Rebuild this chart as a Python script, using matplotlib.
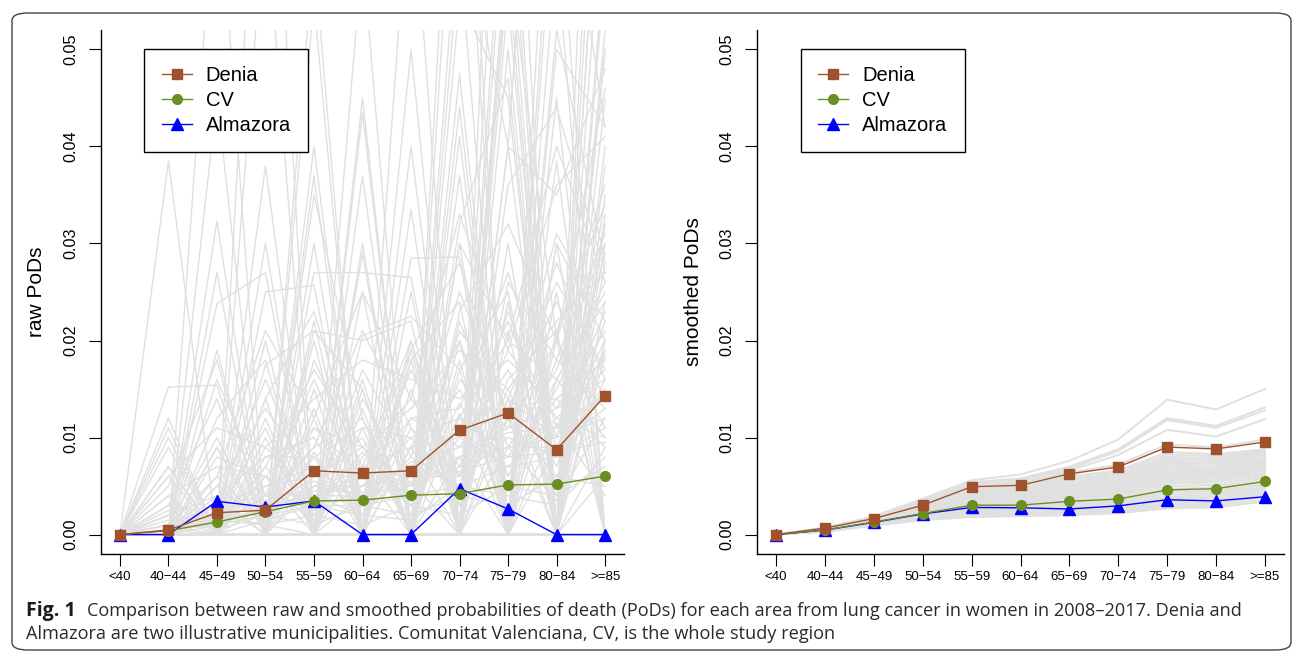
import matplotlib
matplotlib.use("Agg")
import matplotlib.pyplot as plt
from matplotlib.patches import FancyBboxPatch

plt.rcParams["font.family"] = ["Liberation Sans", "DejaVu Sans"]

# age groups
ages = ["<40", "40\u221244", "45\u221249", "50\u221254", "55\u221259", "60\u221264",
        "65\u221269", "70\u221274", "75\u221279", "80\u221284", ">=85"]

# raw PoDs
denia_raw = [0.0, 0.00047, 0.00225, 0.00252, 0.00658, 0.00634, 0.00658, 0.01076, 0.01253, 0.00875, 0.0143]
cv_raw = [0.0, 0.0004, 0.0013, 0.00236, 0.00347, 0.00355, 0.00406, 0.00422, 0.00512, 0.0052, 0.00603]
almazora_raw = [0.0, 0.0, 0.00343, 0.00284, 0.00347, 0.0, 0.0, 0.00473, 0.00264, 0.0, 0.0]

# smoothed PoDs
denia_smooth = [0.0, 0.00067, 0.00165, 0.00303, 0.00493, 0.00508, 0.00626, 0.00697, 0.00902, 0.00883, 0.00954]
cv_smooth = [0.0, 0.00047, 0.0013, 0.00217, 0.00303, 0.00303, 0.00343, 0.00366, 0.00461, 0.00473, 0.00548]
almazora_smooth = [0.0, 0.00047, 0.00126, 0.00213, 0.0028, 0.00276, 0.00264, 0.00296, 0.00359, 0.00347, 0.0039]

# other municipalities (background)
raw_areas = [
    [0, 0.0385, 0, 0, 0, 0, 0, 0, 0, 0, 0],
    [0, 0.0152, 0.0154, 0, 0, 0, 0, 0, 0.012, 0, 0.02],
    [0, 0, 0.0323, 0, 0, 0, 0, 0, 0, 0, 0.045],
    [0, 0, 0.027, 0, 0, 0, 0, 0.03, 0, 0, 0],
    [0, 0, 0.0238, 0.027, 0, 0, 0, 0, 0, 0.03, 0],
    [0, 0, 0, 0.038, 0, 0, 0, 0, 0, 0, 0.05],
    [0, 0, 0, 0.025, 0.0257, 0, 0, 0, 0.04, 0, 0],
    [0, 0, 0, 0, 0.037, 0, 0, 0, 0, 0, 0.03],
    [0, 0, 0, 0, 0.027, 0.027, 0.0265, 0, 0, 0.0385, 0],
    [0, 0, 0, 0, 0, 0.0435, 0, 0, 0, 0, 0.06],
    [0, 0, 0, 0, 0, 0.037, 0, 0.0475, 0, 0, 0],
    [0, 0, 0, 0, 0, 0, 0.0335, 0, 0, 0, 0.1],
    [0, 0, 0, 0, 0, 0, 0.0285, 0.0286, 0, 0, 0],
    [0, 0, 0, 0, 0, 0, 0, 0.037, 0, 0, 0.08],
    [0, 0, 0, 0, 0, 0, 0, 0, 0.05, 0, 0],
    [0, 0, 0, 0, 0, 0, 0, 0, 0.07, 0, 0.035],
    [0, 0, 0.07, 0, 0, 0, 0, 0, 0, 0.045, 0],
    [0, 0, 0, 0.09, 0, 0, 0, 0, 0, 0, 0],
    [0, 0, 0, 0, 0.06, 0, 0, 0.08, 0, 0, 0],
    [0, 0, 0, 0, 0, 0, 0.05, 0, 0, 0.06, 0],
    [0, 0.01, 0, 0, 0, 0, 0, 0, 0.09, 0, 0.07],
    [0, 0, 0.019, 0, 0.02, 0, 0, 0.02, 0, 0.02, 0],
    [0, 0.007, 0, 0.014, 0, 0.015, 0, 0.018, 0, 0.016, 0.025],
    [0, 0.005, 0.018, 0, 0.021, 0.02, 0.022, 0, 0.03, 0, 0.04],
    [0, 0, 0.012, 0.018, 0, 0.0205, 0.0225, 0.017, 0.025, 0, 0.032],
    [0, 0, 0, 0, 0, 0, 0, 0, 0, 0, 0.0185],
    [0, 0, 0, 0, 0, 0, 0, 0.065, 0.04, 0.11, 0.055],
    [0, 0, 0, 0, 0, 0.06, 0, 0, 0.055, 0, 0.09],
    [0, 0, 0, 0, 0.04, 0, 0, 0, 0, 0.075, 0.042],
    [0, 0, 0, 0.03, 0, 0, 0.04, 0, 0.06, 0.02, 0.046],
    [0, 0, 0, 0, 0.035, 0.012, 0, 0.032, 0.047, 0, 0.038],
    [0, 0, 0, 0, 0, 0, 0, 0.044, 0, 0.052, 0.028],
    [0, 0.0005, 0.001, 0.003, 0.004, 0.006, 0.005, 0.008, 0.009, 0.01, 0.012],
    [0, 0.001, 0.002, 0.002, 0.005, 0.004, 0.006, 0.006, 0.01, 0.008, 0.015],
    [0, 0, 0.003, 0.004, 0.003, 0.007, 0.004, 0.01, 0.007, 0.012, 0.01],
    [0, 0.002, 0, 0.005, 0.007, 0.003, 0.008, 0.005, 0.012, 0.006, 0.016],
    [0, 0, 0.004, 0, 0.006, 0.009, 0.003, 0.012, 0.008, 0.014, 0.009],
    [0, 0.003, 0.001, 0.007, 0.002, 0.005, 0.01, 0.004, 0.014, 0.01, 0.02],
    [0, 0, 0, 0.009, 0.004, 0.002, 0.007, 0.015, 0.005, 0.018, 0.013],
    [0, 0.001, 0.006, 0.001, 0.011, 0.006, 0.012, 0.009, 0.017, 0.007, 0.022],
    [0, 0.004, 0, 0.003, 0.009, 0.012, 0.002, 0.016, 0.011, 0.02, 0.011],
    [0, 0, 0.002, 0.011, 0, 0.008, 0.014, 0.007, 0.019, 0.012, 0.017],
    [0, 0.007, 0, 0, 0.013, 0, 0.009, 0.02, 0.006, 0.015, 0.026],
    [0, 0, 0.008, 0.006, 0.001, 0.014, 0.005, 0.011, 0.022, 0.009, 0.019],
    [0, 0.002, 0.001, 0.004, 0.016, 0.004, 0.017, 0.006, 0.013, 0.024, 0.014],
    [0, 0, 0.005, 0.013, 0.006, 0.01, 0, 0.022, 0.009, 0.017, 0.03],
    [0, 0.012, 0, 0.008, 0.01, 0.002, 0.012, 0.013, 0.027, 0.011, 0.023],
    [0, 0.001, 0.01, 0, 0.018, 0.007, 0.02, 0.003, 0.016, 0.021, 0.034],
    [0, 0, 0.003, 0.016, 0.003, 0.017, 0.008, 0.025, 0.012, 0.028, 0.016],
    [0, 0.0015, 0.0005, 0.002, 0.001, 0.003, 0.002, 0.004, 0.003, 0.006, 0.005],
    [0, 0, 0.0015, 0.001, 0.002, 0.001, 0.003, 0.002, 0.005, 0.004, 0.007],
    [0, 0.0005, 0, 0.0015, 0.003, 0.002, 0.0015, 0.005, 0.004, 0.003, 0.008],
    [0, 0.009, 0, 0, 0, 0.011, 0, 0, 0.021, 0, 0.024],
    [0, 0, 0, 0.02, 0, 0, 0.019, 0, 0, 0.025, 0],
    [0, 0.003, 0.014, 0, 0, 0.029, 0, 0.041, 0, 0, 0.05],
    [0, 0, 0, 0, 0.03, 0, 0.015, 0, 0.036, 0.044, 0.027],
    [0, 0, 0, 0.0175, 0.021, 0.015, 0, 0.023, 0.032, 0.02, 0.036],
    [0, 0.006, 0.011, 0.009, 0.014, 0.018, 0.016, 0.014, 0.018, 0.013, 0.021],
    [0, 0, 0, 0, 0, 0, 0, 0, 0.062, 0, 0.12],
    [0, 0, 0, 0, 0, 0, 0, 0.09, 0, 0.07, 0],
    [0, 0, 0, 0, 0, 0, 0, 0, 0, 0.085, 0.065],
    [0, 0, 0, 0, 0, 0.045, 0, 0, 0.075, 0, 0.08],
    [0, 0, 0, 0, 0, 0, 0.07, 0, 0.058, 0, 0.058],
    [0, 0, 0.045, 0, 0.055, 0, 0, 0, 0, 0.05, 0.042],
    [0, 0, 0, 0.065, 0, 0.03, 0, 0.06, 0, 0, 0.052],
    [0, 0, 0, 0, 0, 0, 0, 0.055, 0.045, 0, 0.033],
    [0, 0, 0, 0, 0.022, 0, 0.025, 0, 0.04, 0.035, 0.048],
    [0, 0, 0, 0, 0, 0.025, 0, 0.03, 0.02, 0.04, 0.026],
    [0, 0, 0.009, 0, 0.012, 0, 0.018, 0.024, 0, 0.03, 0.02],
    [0, 0, 0, 0.012, 0, 0.016, 0, 0, 0.026, 0.018, 0.031],
    [0, 0.004, 0.007, 0.006, 0.011, 0.009, 0.013, 0.019, 0.015, 0.022, 0.027],
    [0, 0.002, 0.004, 0.008, 0.008, 0.011, 0.01, 0.012, 0.02, 0.016, 0.024],
    [0, 0.001, 0.003, 0.005, 0.006, 0.007, 0.009, 0.01, 0.013, 0.014, 0.018],
    [0, 0, 0.002, 0.003, 0.005, 0.005, 0.007, 0.008, 0.011, 0.013, 0.016],
    [0, 0.001, 0.001, 0.002, 0.004, 0.004, 0.005, 0.007, 0.009, 0.009, 0.013],
    [0, 0, 0.001, 0.002, 0.003, 0.003, 0.004, 0.005, 0.007, 0.008, 0.011],
    [0, 0.0005, 0.0015, 0.0025, 0.0045, 0.005, 0.006, 0.0065, 0.008, 0.0085, 0.0095],
    [0, 0, 0.0025, 0.0035, 0.0055, 0.004, 0.0075, 0.009, 0.0105, 0.011, 0.014],
    [0, 0.0025, 0.0005, 0.006, 0.0025, 0.0085, 0.0035, 0.0135, 0.006, 0.016, 0.01],
    [0, 0, 0.005, 0.001, 0.008, 0.001, 0.011, 0.003, 0.015, 0.004, 0.019],
    [0, 0.006, 0, 0.01, 0, 0.013, 0, 0.017, 0, 0.021, 0],
    [0, 0, 0.009, 0, 0.015, 0, 0.02, 0, 0.024, 0, 0.028],
    [0, 0.011, 0, 0.007, 0.017, 0.009, 0.005, 0.021, 0.014, 0.026, 0.017],
    [0, 0, 0.016, 0.004, 0.009, 0.021, 0.011, 0.006, 0.023, 0.01, 0.029],
    [0, 0.002, 0, 0.014, 0.023, 0.006, 0.019, 0.028, 0.012, 0.031, 0.022],
    [0, 0, 0.006, 0.021, 0.012, 0.025, 0.014, 0.033, 0.019, 0.036, 0.041],
    [0, 0.003, 0.002, 0.001, 0, 0, 0.018, 0, 0, 0, 0.009],
    [0, 0, 0, 0, 0.0085, 0, 0, 0.0125, 0, 0.009, 0.0145],
    [0, 0, 0, 0.006, 0, 0, 0.009, 0, 0.014, 0, 0.006],
    [0, 0.001, 0, 0, 0.005, 0.0065, 0, 0.008, 0, 0.0115, 0.004],
    [0, 0, 0.0035, 0, 0, 0.004, 0.0055, 0, 0.009, 0.0035, 0.012],
    [0, 0, 0, 0, 0, 0, 0, 0, 0.11, 0.065, 0.075],
]

smooth_areas = [
    [0, 0.0007, 0.0019, 0.0037, 0.0056, 0.0062, 0.0076, 0.0098, 0.0139, 0.0129, 0.0150],
    [0, 0.0007, 0.0018, 0.0035, 0.0054, 0.0058, 0.0070, 0.0088, 0.0120, 0.0112, 0.0131],
    [0, 0.0007, 0.0018, 0.0034, 0.0053, 0.0057, 0.0068, 0.0086, 0.0118, 0.0110, 0.0128],
    [0, 0.0006, 0.0017, 0.0033, 0.0051, 0.0055, 0.0066, 0.0082, 0.0108, 0.0101, 0.0119],
    [0, 0.0006, 0.0017, 0.0032, 0.0050, 0.0053, 0.0064, 0.0072, 0.0093, 0.0090, 0.0098],
    [0, 0.0006, 0.0016, 0.0031, 0.0047, 0.0050, 0.0060, 0.0066, 0.0085, 0.0083, 0.0088],
    [0, 0.0006, 0.0016, 0.00305, 0.0046, 0.00485, 0.0058, 0.0064, 0.00825, 0.0081, 0.00865],
    [0, 0.0006, 0.0016, 0.0030, 0.0045, 0.0047, 0.0056, 0.0062, 0.0080, 0.0079, 0.0085],
    [0, 0.0006, 0.00155, 0.00295, 0.0044, 0.00455, 0.0054, 0.0060, 0.0078, 0.0077, 0.00835],
    [0, 0.0006, 0.0015, 0.0029, 0.0043, 0.0044, 0.0052, 0.0058, 0.0076, 0.0075, 0.0082],
    [0, 0.00055, 0.0015, 0.00285, 0.0042, 0.0043, 0.00505, 0.0056, 0.0074, 0.0073, 0.0080],
    [0, 0.0005, 0.0015, 0.0028, 0.0041, 0.0042, 0.0049, 0.0054, 0.0072, 0.0071, 0.0078],
    [0, 0.0005, 0.00145, 0.00275, 0.0040, 0.0041, 0.00475, 0.00525, 0.0070, 0.0069, 0.00765],
    [0, 0.0005, 0.0014, 0.0027, 0.0039, 0.0040, 0.0046, 0.0051, 0.0068, 0.0067, 0.0075],
    [0, 0.0005, 0.0014, 0.00265, 0.0038, 0.0039, 0.00445, 0.00495, 0.0066, 0.00655, 0.00735],
    [0, 0.0005, 0.0014, 0.0026, 0.0037, 0.0038, 0.0043, 0.0048, 0.0064, 0.0064, 0.0072],
    [0, 0.0005, 0.0014, 0.00255, 0.0036, 0.0037, 0.0042, 0.00465, 0.0062, 0.00625, 0.00705],
    [0, 0.0005, 0.0014, 0.0025, 0.0035, 0.0036, 0.0041, 0.0045, 0.0060, 0.0061, 0.0069],
    [0, 0.0005, 0.00135, 0.00245, 0.00345, 0.0035, 0.0040, 0.00435, 0.0058, 0.00595, 0.00675],
    [0, 0.0005, 0.0013, 0.0024, 0.0034, 0.0034, 0.0039, 0.0042, 0.0056, 0.0058, 0.0066],
    [0, 0.0005, 0.0013, 0.00235, 0.0033, 0.0033, 0.0038, 0.0041, 0.0054, 0.0056, 0.0064],
    [0, 0.0005, 0.0013, 0.0023, 0.0032, 0.0032, 0.0037, 0.0040, 0.0052, 0.0054, 0.0062],
    [0, 0.00045, 0.00125, 0.0022, 0.00305, 0.00305, 0.0035, 0.0038, 0.00495, 0.00515, 0.0060],
    [0, 0.0004, 0.0012, 0.0021, 0.0029, 0.0029, 0.0033, 0.0036, 0.0047, 0.0049, 0.0058],
    [0, 0.0004, 0.0012, 0.00205, 0.0028, 0.0028, 0.00315, 0.00345, 0.0045, 0.0047, 0.00555],
    [0, 0.0004, 0.0012, 0.0020, 0.0027, 0.0027, 0.0030, 0.0033, 0.0043, 0.0045, 0.0053],
    [0, 0.0004, 0.00115, 0.00195, 0.0026, 0.0026, 0.0029, 0.00315, 0.0041, 0.0043, 0.0051],
    [0, 0.0004, 0.0011, 0.0019, 0.0025, 0.0025, 0.0028, 0.0030, 0.0039, 0.0041, 0.0049],
    [0, 0.0004, 0.0011, 0.00185, 0.0024, 0.0024, 0.0027, 0.0029, 0.00375, 0.0039, 0.0047],
    [0, 0.0004, 0.0011, 0.0018, 0.0023, 0.0023, 0.0026, 0.0028, 0.0036, 0.0037, 0.0045],
    [0, 0.0004, 0.00105, 0.00175, 0.0022, 0.00225, 0.0025, 0.0027, 0.0034, 0.00355, 0.0043],
    [0, 0.0004, 0.0010, 0.0017, 0.0021, 0.0022, 0.0024, 0.0026, 0.0032, 0.0034, 0.0041],
    [0, 0.00035, 0.0010, 0.00165, 0.0020, 0.0021, 0.0023, 0.00245, 0.00305, 0.0032, 0.00385],
    [0, 0.0003, 0.0010, 0.0016, 0.0019, 0.0020, 0.0022, 0.0023, 0.0029, 0.0030, 0.0036],
    [0, 0.0003, 0.0009, 0.0015, 0.0018, 0.0019, 0.0020, 0.0022, 0.0027, 0.0028, 0.0034],
]

GRAY = "#E0E0E0"
SIENNA = "#A0522D"
OLIVE = "#6B8E23"
BLUE = "#0000FF"

fig = plt.figure(figsize=(12.96, 6.55), dpi=100)

# rounded frame around the whole figure
frame = FancyBboxPatch((12 / 1296, 1 - 650 / 655), 1279 / 1296, 637 / 655,
                       boxstyle="round,pad=0,rounding_size=0.012",
                       transform=fig.transFigure, fill=False,
                       edgecolor="#444444", linewidth=1.0)
fig.patches.append(frame)

ax1 = fig.add_axes([101 / 1296, 1 - 554 / 655, 523 / 1296, 524 / 655])
ax2 = fig.add_axes([757 / 1296, 1 - 554 / 655, 527 / 1296, 524 / 655])

x = list(range(len(ages)))


def draw_panel(ax, areas, denia, cv, almazora, ylabel, gray_lw):
    for row in areas:
        ax.plot(x, row, color=GRAY, lw=gray_lw, zorder=1)
    ax.plot(x, almazora, color=BLUE, lw=1.0, marker="^", ms=8.5, zorder=3, label="Almazora")
    ax.plot(x, cv, color=OLIVE, lw=1.0, marker="o", ms=7, zorder=4, label="CV")
    ax.plot(x, denia, color=SIENNA, lw=1.0, marker="s", ms=7.5, zorder=5, label="Denia")

    ax.set_xlim(-0.39, 10.39)
    ax.set_ylim(-0.0020, 0.0520)
    ax.set_xticks(x)
    ax.set_xticklabels(ages, fontsize=9.5)
    ax.set_yticks([0, 0.01, 0.02, 0.03, 0.04, 0.05])
    ax.set_yticklabels(["0.00", "0.01", "0.02", "0.03", "0.04", "0.05"],
                       rotation=90, va="center", fontsize=11.7)
    ax.tick_params(axis="y", length=9, width=0.8, pad=7)
    ax.tick_params(axis="x", length=8.5, width=0.8, pad=4)
    for side in ["top", "right"]:
        ax.spines[side].set_visible(False)
    for side in ["left", "bottom"]:
        ax.spines[side].set_linewidth(1.0)
    ax.set_ylabel(ylabel, fontsize=15, va="center")

    handles, labels = ax.get_legend_handles_labels()
    order = [2, 1, 0]
    ax.legend([handles[i] for i in order], [labels[i] for i in order],
              loc="upper left", bbox_to_anchor=(0.083, 0.9637), borderaxespad=0,
              fontsize=14.5, frameon=True, fancybox=False, edgecolor="black",
              framealpha=1, borderpad=0.85, labelspacing=0.3,
              handlelength=1.5, handletextpad=0.7)
    ax.get_legend().get_frame().set_linewidth(1.0)


draw_panel(ax1, raw_areas, denia_raw, cv_raw, almazora_raw, "raw PoDs", 1.0)
draw_panel(ax2, smooth_areas, denia_smooth, cv_smooth, almazora_smooth, "smoothed PoDs", 1.4)
ax1.yaxis.set_label_coords(-64 / 523, 0.5)
ax2.yaxis.set_label_coords(-63.5 / 527, 0.5)

# caption
cap_font = ["Open Sans", "DejaVu Sans"]
fig.text(26 / 1296, 1 - 611 / 655, "Fig. 1", fontsize=14, fontweight="bold",
         family=cap_font, va="center", ha="left", color="#1a1a1a")
fig.text(87 / 1296, 1 - 611 / 655,
         "Comparison between raw and smoothed probabilities of death (PoDs) for each area from "
         "lung cancer in women in 2008\u20132017. Denia and",
         fontsize=13.1, family=cap_font, va="center", ha="left", color="#2a2a2a")
fig.text(26 / 1296, 1 - 634 / 655,
         "Almazora are two illustrative municipalities. Comunitat Valenciana, CV, is the whole study region",
         fontsize=13.1, family=cap_font, va="center", ha="left", color="#2a2a2a")

fig.savefig("out.png", dpi=100)
